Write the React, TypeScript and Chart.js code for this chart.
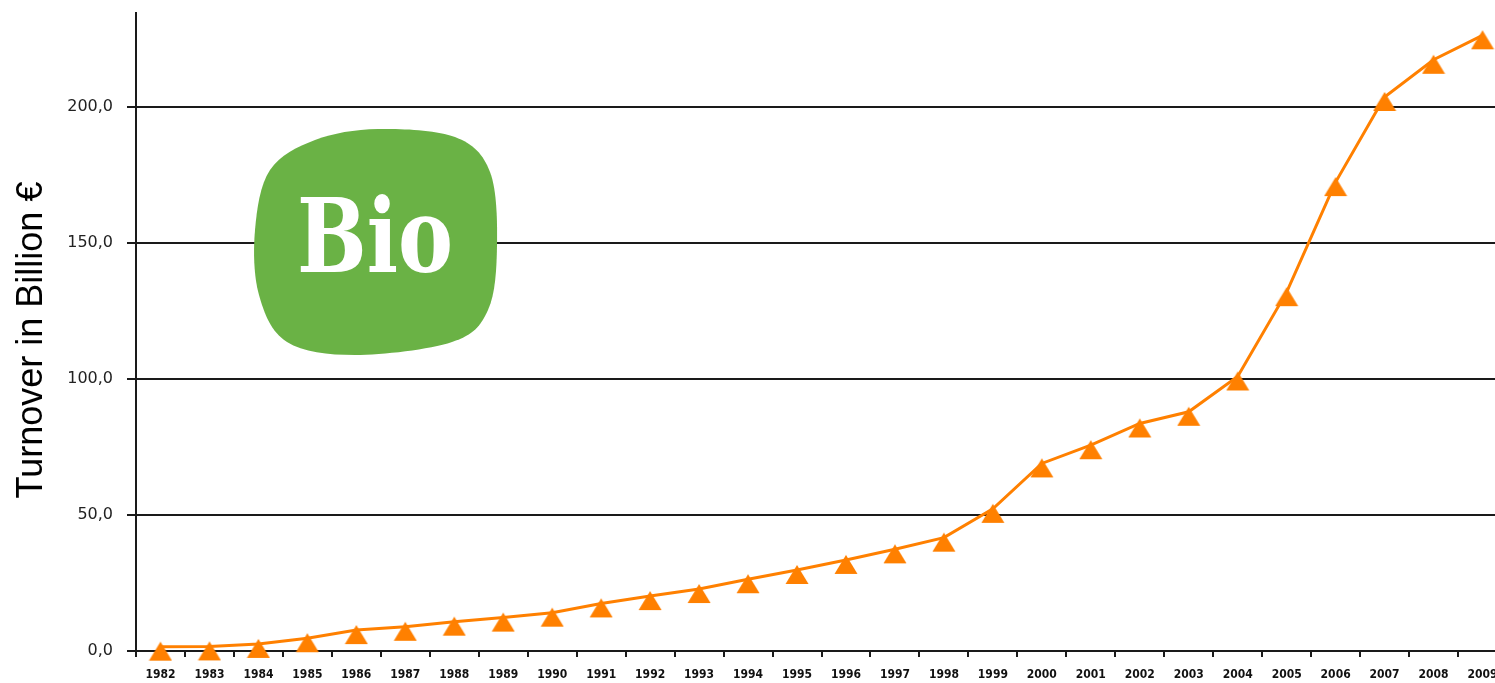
import { useEffect, useRef } from 'react';
import { Chart, registerables } from 'chart.js';

Chart.register(...registerables);

const years = [
  '1982', '1983', '1984', '1985', '1986', '1987', '1988', '1989', '1990', '1991',
  '1992', '1993', '1994', '1995', '1996', '1997', '1998', '1999', '2000', '2001',
  '2002', '2003', '2004', '2005', '2006', '2007', '2008', '2009',
];
const turnover = [
  1.6, 1.7, 2.6, 4.7, 7.7, 8.9, 10.8, 12.3, 14.1, 17.5,
  20.2, 22.8, 26.4, 29.8, 33.5, 37.4, 41.7, 52.3, 69.0, 75.7,
  83.7, 88.0, 101.0, 132.0, 172.5, 203.8, 217.5, 226.5,
];
const yTickValues = [0, 50, 100, 150, 200];
const yMax = 234.7;
const yTitle = 'Turnover in Billion €';
const logoText = 'Bio';

const ORANGE = '#ff8000';
const GREEN = '#6ab245';
const INK = '#1a1a1a';

function makeTriangle(): HTMLCanvasElement {
  const c = document.createElement('canvas');
  c.width = 24;
  c.height = 40;
  const ctx = c.getContext('2d')!;
  ctx.fillStyle = ORANGE;
  ctx.beginPath();
  ctx.moveTo(12, 15);
  ctx.lineTo(23.5, 34);
  ctx.lineTo(0.5, 34);
  ctx.closePath();
  ctx.fill();
  return c;
}

const decorPlugin = {
  id: 'decor',
  afterDraw(chart: any) {
    const ctx = chart.ctx as CanvasRenderingContext2D;
    ctx.save();
    // y-axis title
    ctx.translate(42, 340);
    ctx.rotate(-Math.PI / 2);
    ctx.fillStyle = '#000';
    ctx.font = '36px "Liberation Sans", Arial, sans-serif';
    ctx.textAlign = 'center';
    ctx.textBaseline = 'alphabetic';
    ctx.fillText(yTitle, 0, 0);
    ctx.restore();

    // logo blob
    const pts: [number, number][] = [
      [378, 129], [455, 137], [490, 172], [497, 245], [488, 310],
      [452, 342], [355, 355], [287, 342], [259, 295], [255, 230], [270, 170], [315, 140],
    ];
    ctx.save();
    ctx.fillStyle = GREEN;
    ctx.beginPath();
    const n = pts.length;
    ctx.moveTo(pts[0][0], pts[0][1]);
    for (let i = 0; i < n; i++) {
      const p0 = pts[(i - 1 + n) % n];
      const p1 = pts[i];
      const p2 = pts[(i + 1) % n];
      const p3 = pts[(i + 2) % n];
      const c1x = p1[0] + (p2[0] - p0[0]) / 6;
      const c1y = p1[1] + (p2[1] - p0[1]) / 6;
      const c2x = p2[0] - (p3[0] - p1[0]) / 6;
      const c2y = p2[1] - (p3[1] - p1[1]) / 6;
      ctx.bezierCurveTo(c1x, c1y, c2x, c2y, p2[0], p2[1]);
    }
    ctx.closePath();
    ctx.fill();
    ctx.fillStyle = '#ffffff';
    ctx.font = 'bold 102px "DejaVu Serif Condensed", "DejaVu Serif", serif';
    ctx.textAlign = 'left';
    ctx.textBaseline = 'alphabetic';
    ctx.fillText(logoText, 297, 272, 156);
    ctx.restore();
  },
};

export default function App() {
  const ref = useRef<HTMLCanvasElement>(null);

  useEffect(() => {
    if (!ref.current) return;
    const tri = makeTriangle();
    const chart = new Chart(ref.current, {
      type: 'line',
      data: {
        labels: years,
        datasets: [
          {
            data: turnover,
            borderColor: ORANGE,
            borderWidth: 3,
            tension: 0,
            pointStyle: tri as any,
            pointRadius: 10,
            pointHoverRadius: 10,
            fill: false,
            clip: false as any,
          },
        ],
      },
      options: {
        responsive: false,
        animation: false,
        devicePixelRatio: 1,
        layout: { padding: { top: 10, left: 0, right: 0, bottom: 0 } },
        plugins: { legend: { display: false }, tooltip: { enabled: false } },
        scales: {
          x: {
            type: 'category',
            offset: true,
            grid: {
              offset: true,
              drawOnChartArea: false,
              drawTicks: true,
              tickLength: 6,
              color: INK,
              lineWidth: 2,
            },
            border: { color: INK, width: 2 },
            ticks: {
              autoSkip: false,
              maxRotation: 0,
              minRotation: 0,
              padding: 11,
              color: '#111',
              font: { family: '"DejaVu Sans Condensed", "DejaVu Sans", sans-serif', size: 12, weight: 'bold' },
            },
            afterFit: (s: any) => {
              s.height = 32;
              s.paddingLeft = 0;
              s.paddingRight = 0;
            },
          },
          y: {
            min: 0,
            max: yMax,
            afterBuildTicks: (s: any) => {
              s.ticks = yTickValues.map((v) => ({ value: v }));
            },
            afterFit: (s: any) => {
              s.width = 136;
              s.paddingTop = 0;
              s.paddingBottom = 0;
            },
            grid: { color: INK, lineWidth: 2, tickLength: 9, drawTicks: true },
            border: { color: INK, width: 2 },
            ticks: {
              padding: 14,
              color: '#222',
              font: { family: '"DejaVu Sans", sans-serif', size: 16 },
              callback: (v: any) => Number(v).toFixed(1).replace('.', ','),
            },
          },
        },
      },
      plugins: [decorPlugin],
    });
    return () => chart.destroy();
  }, []);

  return (
    <div
      style={{
        position: 'absolute',
        left: 0,
        top: 0,
        width: 1495,
        height: 683,
        overflow: 'hidden',
        background: '#fff',
      }}
    >
      <canvas ref={ref} width={1520} height={683} style={{ display: 'block', width: 1520, height: 683 }} />
    </div>
  );
}
